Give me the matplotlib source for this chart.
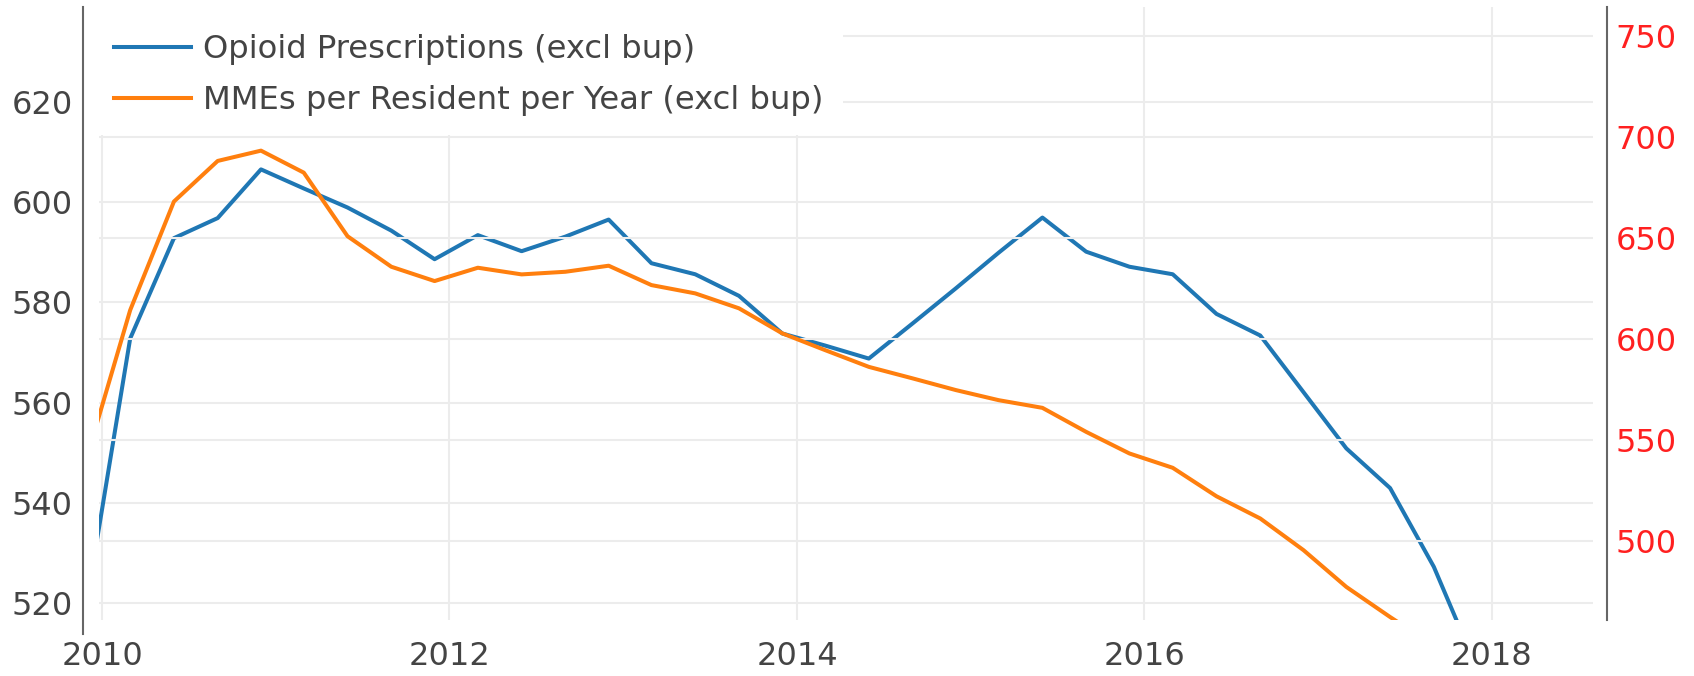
import numpy as np
import pandas as pd
import matplotlib
matplotlib.use('Agg')
import matplotlib.pyplot as plt
import matplotlib.dates as mdates
from matplotlib.patches import Rectangle

# quarterly dates (first of Mar/Jun/Sep/Dec)
dates = pd.date_range('2009-12-01', '2017-12-01', freq='3MS')

# opioid prescriptions, left axis
opioid_rx = [521.0, 572.8, 592.8, 596.8, 606.5, 602.7, 598.9, 594.3, 588.6,
             593.4, 590.2, 593.1, 596.5, 587.8, 585.6, 581.3, 573.8, 571.4,
             568.8, 575.8, 582.8, 589.9, 596.9, 590.1, 587.1, 585.6, 577.7,
             573.4, 562.1, 550.9, 543.0, 527.3, 507.0]

# MMEs per resident per year, right axis
mme = [542.0, 614.2, 668.0, 688.1, 693.2, 682.3, 650.8, 635.7, 628.6,
       635.2, 631.9, 633.2, 636.2, 626.6, 622.5, 615.1, 602.7, 594.4,
       586.1, 580.4, 574.6, 569.6, 565.8, 553.9, 543.2, 536.1, 522.0,
       511.0, 495.3, 477.1, 462.2, 448.0, 432.0]

left_ticks = [520, 540, 560, 580, 600, 620]
right_ticks = [500, 550, 600, 650, 700, 750]

plt.rcParams['font.family'] = ['DejaVu Sans']
txt = '#444444'
grid_c = '#ececec'
fs = 23

fig = plt.figure(figsize=(16.94, 6.76), dpi=100)
ax1 = fig.add_axes([0.0586, 0.0828, 0.8816, 0.9064])
ax2 = ax1.twinx()

l1, = ax1.plot(dates, opioid_rx, color='#1f77b4', lw=2.9, label='Opioid Prescriptions (excl bup)')
l2, = ax2.plot(dates, mme, color='#ff7f0e', lw=2.9, label='MMEs per Resident per Year (excl bup)')

ax1.set_xlim(pd.Timestamp('2009-12-26'), pd.Timestamp('2018-08-01'))
ax1.set_ylim(516.7, 638.8)
ax2.set_ylim(460.7, 764.2)

ax1.xaxis.set_major_locator(mdates.YearLocator(2))
ax1.xaxis.set_major_formatter(mdates.DateFormatter('%Y'))
ax1.set_yticks(left_ticks)
ax2.set_yticks(right_ticks)

ax1.grid(True, color=grid_c, lw=1.5)
ax2.grid(True, axis='y', color=grid_c, lw=1.5)
ax1.set_axisbelow(True)
ax2.set_axisbelow(True)

for ax in (ax1, ax2):
    for s in ('top', 'bottom'):
        ax.spines[s].set_visible(False)
ax2.spines['left'].set_visible(False)
ax1.spines['right'].set_visible(False)
ax1.spines['left'].set_position(('outward', 12))
ax1.spines['left'].set_bounds(514.0, 638.8)
ax1.spines['left'].set_color('#666666')
ax1.spines['left'].set_linewidth(1.5)
ax2.spines['right'].set_position(('outward', 10.3))
ax2.spines['right'].set_color('#666666')
ax2.spines['right'].set_linewidth(1.5)

ax1.tick_params(axis='y', length=0, pad=7, labelsize=fs, labelcolor=txt)
ax1.tick_params(axis='x', length=0, pad=15, labelsize=fs, labelcolor=txt)
ax2.tick_params(axis='y', length=0, pad=6, labelsize=fs, labelcolor='#ff2020')

leg = ax2.legend(handles=[l1, l2], loc='upper left', bbox_to_anchor=(-0.003, 0.988),
                 borderaxespad=0, frameon=True, fancybox=False, framealpha=1,
                 edgecolor='none', facecolor='white', fontsize=23.2,
                 handlelength=2.4, handletextpad=0.35, labelspacing=0.62,
                 borderpad=0.6)
for t in leg.get_texts():
    t.set_color(txt)

# legend background reaches up to the top of the plot area
ax2.add_patch(Rectangle((-0.003, 0.97), 0.5, 0.03, transform=ax2.transAxes,
                        facecolor='white', edgecolor='none', zorder=4, clip_on=False))

fig.savefig('out.png', dpi=100)
